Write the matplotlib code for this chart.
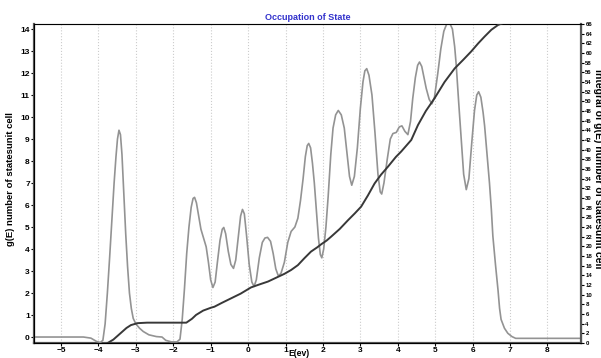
import matplotlib
matplotlib.use("Agg")
import matplotlib.pyplot as plt
import numpy as np

# ------------------------------------------------------------------
#   Data
# ------------------------------------------------------------------
# density of states g(E) : (E [eV], g)
dos_points = [
    (-5.72, 0.0), (-4.4, 0.0), (-4.2, -0.05), (-4.05, -0.2), (-3.95, -0.25),
    (-3.88, -0.15), (-3.82, 0.6), (-3.76, 2.0), (-3.70, 3.6), (-3.64, 5.3),
    (-3.58, 7.0), (-3.53, 8.2), (-3.49, 9.0), (-3.45, 9.4), (-3.41, 9.2),
    (-3.37, 8.3), (-3.32, 6.5), (-3.27, 4.7), (-3.22, 3.2), (-3.17, 2.0),
    (-3.12, 1.3), (-3.07, 0.85), (-3.0, 0.6), (-2.9, 0.4), (-2.8, 0.25),
    (-2.65, 0.1), (-2.45, 0.02), (-2.3, 0.0), (-2.2, -0.15), (-2.05, -0.22),
    (-1.9, -0.22), (-1.82, -0.1), (-1.76, 0.8), (-1.70, 2.2), (-1.64, 3.8),
    (-1.58, 5.0), (-1.52, 5.9), (-1.47, 6.3), (-1.43, 6.35), (-1.38, 6.1),
    (-1.32, 5.5), (-1.26, 4.9), (-1.19, 4.5), (-1.12, 4.1), (-1.06, 3.4),
    (-1.0, 2.6), (-0.94, 2.25), (-0.88, 2.5), (-0.82, 3.4), (-0.75, 4.4),
    (-0.69, 4.9), (-0.65, 4.98), (-0.6, 4.7), (-0.53, 3.9), (-0.46, 3.3),
    (-0.39, 3.12), (-0.33, 3.5), (-0.26, 4.6), (-0.2, 5.5), (-0.15, 5.8),
    (-0.1, 5.6), (-0.04, 4.6), (0.03, 3.3), (0.1, 2.5), (0.16, 2.3),
    (0.22, 2.6), (0.3, 3.6), (0.38, 4.3), (0.45, 4.5), (0.52, 4.53),
    (0.6, 4.35), (0.67, 3.8), (0.74, 3.1), (0.81, 2.77), (0.88, 2.9),
    (0.97, 3.4), (1.06, 4.3), (1.15, 4.8), (1.25, 5.0), (1.33, 5.4),
    (1.40, 6.2), (1.47, 7.2), (1.53, 8.2), (1.58, 8.7), (1.62, 8.8),
    (1.67, 8.6), (1.72, 7.9), (1.77, 7.0), (1.83, 5.6), (1.88, 4.5),
    (1.93, 3.75), (1.97, 3.6), (2.02, 4.0), (2.08, 5.0), (2.14, 6.4),
    (2.21, 8.3), (2.27, 9.5), (2.34, 10.1), (2.41, 10.3), (2.49, 10.1),
    (2.57, 9.5), (2.64, 8.4), (2.71, 7.3), (2.77, 6.9), (2.84, 7.3),
    (2.92, 8.6), (3.0, 10.4), (3.07, 11.6), (3.12, 12.1), (3.17, 12.2),
    (3.23, 11.9), (3.31, 11.0), (3.39, 9.3), (3.47, 7.4), (3.53, 6.6),
    (3.57, 6.5), (3.63, 7.0), (3.72, 8.1), (3.80, 9.0), (3.87, 9.25),
    (3.96, 9.3), (4.04, 9.55), (4.11, 9.6), (4.19, 9.35), (4.27, 9.2),
    (4.34, 9.8), (4.40, 10.85), (4.47, 11.8), (4.53, 12.35), (4.58, 12.5),
    (4.64, 12.3), (4.70, 11.8), (4.76, 11.3), (4.84, 10.8), (4.91, 10.6),
    (4.98, 10.9), (5.07, 12.0), (5.15, 13.1), (5.23, 13.9), (5.3, 14.2),
    (5.38, 14.3), (5.46, 14.0), (5.52, 13.2), (5.56, 12.4), (5.63, 10.6),
    (5.70, 8.9), (5.76, 7.4), (5.83, 6.7), (5.90, 7.2), (5.98, 8.9),
    (6.05, 10.3), (6.11, 11.0), (6.16, 11.15), (6.22, 10.9), (6.28, 10.2),
    (6.32, 9.6), (6.38, 8.4), (6.45, 7.0), (6.50, 5.8), (6.54, 4.6),
    (6.61, 3.3), (6.68, 2.1), (6.72, 1.3), (6.76, 0.8), (6.85, 0.4),
    (6.94, 0.17), (7.05, 0.02), (7.15, -0.06), (8.9, -0.06),
]

# integral of g(E) : (E [eV], states/unit cell)
int_points = [
    (-3.75, 0.0), (-3.6, 0.7), (-3.4, 2.07), (-3.25, 3.1), (-3.13, 3.7),
    (-2.95, 4.1), (-2.7, 4.2), (-1.65, 4.2), (-1.5, 5.0), (-1.39, 5.8),
    (-1.2, 6.7), (-0.99, 7.3), (-0.9, 7.5), (-0.7, 8.3), (-0.45, 9.25),
    (-0.2, 10.2), (0.08, 11.5), (0.3, 12.1), (0.53, 12.7), (0.75, 13.5),
    (0.97, 14.3), (1.15, 15.1), (1.33, 16.1), (1.5, 17.5), (1.68, 18.9),
    (1.85, 19.8), (1.95, 20.4), (2.1, 21.2), (2.22, 22.0), (2.45, 23.6),
    (2.67, 25.4), (2.85, 26.8), (3.02, 28.2), (3.2, 30.5), (3.38, 33.0),
    (3.55, 34.8), (3.74, 36.5), (3.95, 38.5), (4.09, 39.6), (4.36, 42.0),
    (4.54, 45.1), (4.75, 48.0), (4.98, 50.6), (5.25, 54.0), (5.52, 56.8),
    (5.75, 58.6), (5.96, 60.3), (6.15, 62.0), (6.32, 63.4), (6.5, 64.8),
    (6.68, 65.8), (6.85, 66.3), (7.0, 66.6), (8.9, 66.6),
]

x_ticks = list(range(-5, 9))
left_ticks = list(range(0, 15))
right_ticks = list(range(0, 67, 2))

E_dos, g_dos = np.array(dos_points).T
E_int, g_int = np.array(int_points).T

# ------------------------------------------------------------------
#   Plot
# ------------------------------------------------------------------
plt.rcParams['font.family'] = ['Liberation Sans', 'DejaVu Sans']
plt.rcParams['font.weight'] = 'bold'

fig = plt.figure(figsize=(6.01, 3.58), dpi=100)
axes = fig.add_axes([0.0566, 0.042, 0.9104, 0.891])

axes.plot(E_dos, g_dos, color='#939393', lw=1.2, zorder=3)
axes.set_xlim(-5.72, 8.9)
axes.set_ylim(-0.27, 14.23)
axes.set_xticks(x_ticks)
axes.set_yticks(left_ticks)
axes.tick_params(labelsize=6, length=2, width=0.8, pad=1)
axes.grid(axis='x', color='#cccccc', linestyle=':', lw=0.8)

for side in ['left', 'bottom']:
	axes.spines[side].set_linewidth(1.6)
	axes.spines[side].set_color('#555555')
axes.spines['top'].set_color('#aaaaaa')
axes.spines['right'].set_color('#555555')

axes2 = axes.twinx()
axes2.plot(E_int, g_int, color='#383838', lw=1.4, zorder=4)
axes2.set_ylim(0, 66)
axes2.set_yticks(right_ticks)
axes2.tick_params(labelsize=4.3, length=2, width=0.8, pad=1)
axes2.spines['right'].set_linewidth(1.6)
axes2.spines['right'].set_color('#555555')

axes.set_title('Occupation of State', fontsize=6.5, fontweight='bold',
               color='#3333cc', pad=3)
fig.text(0.497, 0.0, 'E(ev)', fontsize=6.2, fontweight='bold', ha='center', va='bottom')
fig.text(0.018, 0.5, 'g(E) number of statesunit cell', fontsize=6.8,
         rotation=90, ha='center', va='center')
fig.text(0.995, 0.53, 'integral of g(E) number of statesunit cell', fontsize=7.5,
         rotation=270, ha='center', va='center')

plt.savefig('out.png', dpi=100)
